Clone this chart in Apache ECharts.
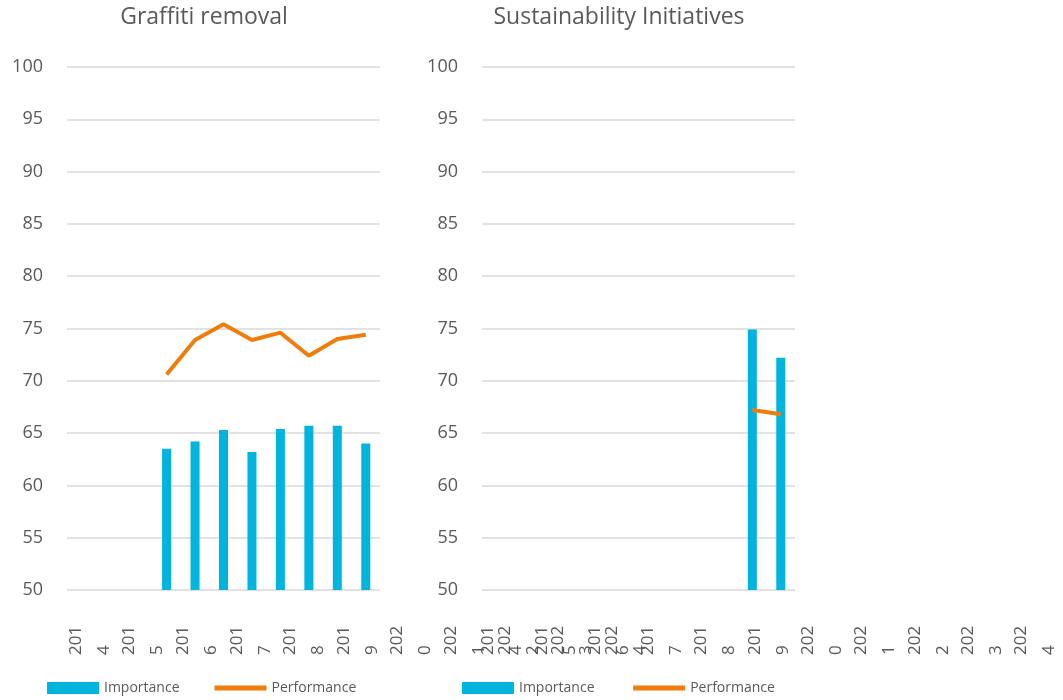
<!DOCTYPE html>
<html>
<head>
<meta charset="utf-8">
<script src="https://cdn.jsdelivr.net/npm/echarts@6/dist/echarts.min.js"></script>
<style>
  html, body { margin: 0; padding: 0; background: #fff; }
  #chart { width: 1063px; height: 700px; }
</style>
</head>
<body>
<div id="chart"></div>
<script>
var years = ['2014', '2015', '2016', '2017', '2018', '2019', '2020', '2021', '2022', '2023', '2024'];

// Graffiti removal
var graffitiImportance = [null, null, null, 63.5, 64.2, 65.3, 63.2, 65.4, 65.7, 65.7, 64.0];
var graffitiPerformance = [null, null, null, 70.6, 73.9, 75.4, 73.9, 74.6, 72.4, 74.0, 74.4];

// Sustainability Initiatives
var sustainImportance = [null, null, null, null, null, null, null, null, null, 74.9, 72.2];
var sustainPerformance = [null, null, null, null, null, null, null, null, null, 67.2, 66.8];

var blue = '#00B4E0';
var orange = '#EE7D0B';
var textColor = '#595959';
var font = 'Open Sans';

var myChart = echarts.init(document.getElementById('chart'));

function valueAxis(idx) {
  return {
    type: 'value',
    gridIndex: idx,
    min: 50,
    max: 100,
    interval: 5,
    axisLine: { show: false },
    axisTick: { show: false },
    axisLabel: { color: textColor, fontSize: 18, fontFamily: font, margin: 24 },
    splitLine: { lineStyle: { color: '#D9D9D9', width: 1.5 } }
  };
}

function plotAxis(idx) {
  return {
    type: 'category',
    gridIndex: idx,
    data: years,
    axisLine: { show: false },
    axisTick: { show: false },
    axisLabel: { show: false }
  };
}

// year labels sit on their own wider axis, as in the source they spill past the plot
function labelAxis(idx) {
  return {
    type: 'category',
    gridIndex: idx,
    position: 'top',
    data: years,
    axisLine: { show: false },
    axisTick: { show: false },
    axisLabel: {
      interval: 0,
      rotate: 90,
      margin: 2,
      color: textColor,
      fontSize: 17,
      fontFamily: font,
      lineHeight: 28,
      formatter: function (v) {
        return v.slice(0, 3) + '\n' + v.slice(3);
      }
    }
  };
}

function hiddenY(idx) {
  return { type: 'value', gridIndex: idx, show: false };
}

function legendFor(left, suffix) {
  return {
    left: left, top: 676,
    itemWidth: 52, itemHeight: 12, itemGap: 35,
    textStyle: { color: textColor, fontSize: 14, fontFamily: font },
    data: [
      { name: 'Importance' + suffix, icon: 'rect' },
      { name: 'Performance' + suffix, icon: 'path://M0,0H52V5H0Z' }
    ]
  };
}

var option = {
  animation: false,
  title: [
    {
      text: 'Graffiti removal',
      left: 199, top: 1, textAlign: 'center',
      textStyle: { color: textColor, fontSize: 23, fontWeight: 'normal', fontFamily: font }
    },
    {
      text: 'Sustainability Initiatives',
      left: 614, top: 1, textAlign: 'center',
      textStyle: { color: textColor, fontSize: 23, fontWeight: 'normal', fontFamily: font }
    }
  ],
  legend: [legendFor(42, ''), legendFor(457, ' ')],
  grid: [
    { left: 67, top: 67, width: 313, height: 523 },
    { left: 482, top: 67, width: 313, height: 523 },
    { left: 63, top: 657, width: 590, height: 1 },
    { left: 476, top: 657, width: 590, height: 1 }
  ],
  xAxis: [plotAxis(0), plotAxis(1), labelAxis(2), labelAxis(3)],
  yAxis: [valueAxis(0), valueAxis(1), hiddenY(2), hiddenY(3)],
  series: [
    {
      name: 'Importance', type: 'bar', xAxisIndex: 0, yAxisIndex: 0,
      data: graffitiImportance, barWidth: 9, itemStyle: { color: blue }
    },
    {
      name: 'Performance', type: 'line', xAxisIndex: 0, yAxisIndex: 0,
      data: graffitiPerformance, symbol: 'none',
      itemStyle: { color: orange }, lineStyle: { color: orange, width: 4 }
    },
    {
      name: 'Importance ', type: 'bar', xAxisIndex: 1, yAxisIndex: 1,
      data: sustainImportance, barWidth: 9, itemStyle: { color: blue }
    },
    {
      name: 'Performance ', type: 'line', xAxisIndex: 1, yAxisIndex: 1,
      data: sustainPerformance, symbol: 'none',
      itemStyle: { color: orange }, lineStyle: { color: orange, width: 4 }
    }
  ]
};

myChart.setOption(option);
</script>
</body>
</html>
